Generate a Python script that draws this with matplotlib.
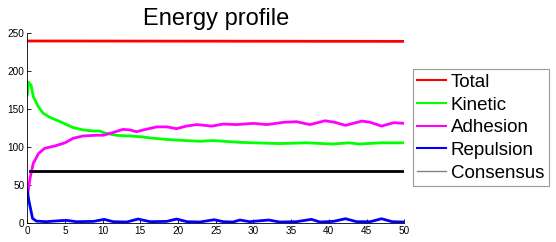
import numpy as np
import matplotlib
matplotlib.use("Agg")
import matplotlib.pyplot as plt
from matplotlib.lines import Line2D

plt.rcParams['font.family'] = ['Liberation Sans', 'DejaVu Sans']

# time samples and energies
t_total = [0, 50]
total = [240, 239.5]

t_kin = [0, 0.15, 0.5, 0.8, 1.5, 2.1, 3, 4.1, 5, 6.1, 7.4, 8.8, 9.6, 10.5, 11.9, 13.6,
         15, 16.7, 18.5, 19.8, 22.9, 24.6, 28.2, 33.5, 37, 40.5, 42.7, 44, 47, 50]
kinetic = [169, 186, 182, 167, 153, 145, 139.5, 135, 131, 126, 123, 121.5, 121.5, 118.4,
           115.8, 115, 114, 112, 110.5, 109.6, 108, 109, 106.6, 105, 106, 104.4, 106,
           104.4, 106, 106]

t_adh = [0, 0.4, 0.8, 1.5, 2.3, 3.7, 5, 6.1, 7.4, 9.2, 10.1, 11.2, 12.7, 13.6, 14.5,
         15.4, 17.2, 18.5, 19.8, 21.1, 22.5, 24.5, 26, 27.8, 30, 31.8, 34, 35.7, 37.5,
         39.5, 40.8, 42.2, 44.4, 45.5, 47, 48.6, 50]
adhesion = [35, 61, 79, 92, 98.7, 102, 106, 112, 115, 116, 116, 119, 123.7, 123, 120.6,
            123, 127, 127, 124.6, 128, 130, 128, 130.7, 130, 131.6, 130, 133, 133.8, 130,
            135, 133, 129, 134.6, 133, 128, 132.5, 131.6]

t_rep = [0, 0.2, 0.7, 1.2, 2.5, 4.3, 5.2, 6.5, 8.8, 10.2, 11.4, 13.2, 14.7, 16.3, 18.5,
         19.8, 21.2, 22.9, 24.8, 26, 27.3, 28.2, 29.5, 32, 33.5, 35.7, 37.7, 38.8, 40.6,
         42.2, 43.7, 45.5, 47, 48.4, 50]
repulsion = [44, 30.7, 6.6, 3, 2.2, 3.5, 4, 2.2, 2.6, 5.3, 2.2, 1.8, 5.7, 2.2, 2.6, 5.7,
             2.2, 1.8, 4.8, 2.2, 1.8, 4.4, 2.2, 4.4, 1.8, 2.2, 5.3, 1.8, 2.6, 6.1, 2.2,
             2.2, 6.1, 2.2, 1.8]

t_cons = [0.3, 50]
consensus = [69.3, 69.3]

fig = plt.figure(figsize=(5.56, 2.42), dpi=100)
ax = fig.add_axes([0.049, 0.077, 0.678, 0.785])

lw = 2.0
ax.plot(t_total, total, color='#ff0000', lw=lw)
ax.plot(t_kin, kinetic, color='#00ff00', lw=lw)
ax.plot(t_adh, adhesion, color='#ff00ff', lw=lw)
ax.plot(t_rep, repulsion, color='#0000ff', lw=lw)
ax.plot(t_cons, consensus, color='black', lw=lw)

ax.set_xlim(0, 50)
ax.set_ylim(0, 250)
ax.set_xticks(np.arange(0, 51, 5))
ax.set_yticks(np.arange(0, 251, 50))
ax.tick_params(direction='in', length=3, labelsize=7.2, pad=2, width=0.6)
for s in ['top', 'right']:
    ax.spines[s].set_visible(False)
for s in ['left', 'bottom']:
    ax.spines[s].set_linewidth(0.6)
ax.set_title("Energy profile", fontsize=17, pad=6)

handles = [Line2D([], [], color='#ff0000', lw=1.5),
           Line2D([], [], color='#00ff00', lw=1.5),
           Line2D([], [], color='#ff00ff', lw=1.5),
           Line2D([], [], color='#0000ff', lw=1.5),
           Line2D([], [], color='gray', lw=1.0)]
labels = ["Total", "Kinetic", "Adhesion", "Repulsion", "Consensus"]
leg = fig.legend(handles, labels, loc='upper left', bbox_to_anchor=(0.742, 0.715),
                 fontsize=13.5, frameon=True, fancybox=False, edgecolor='gray',
                 handlelength=1.55, handletextpad=0.25, labelspacing=0.3,
                 borderpad=0.25, borderaxespad=0)
leg.get_frame().set_linewidth(0.8)

fig.savefig("out.png", dpi=100)
